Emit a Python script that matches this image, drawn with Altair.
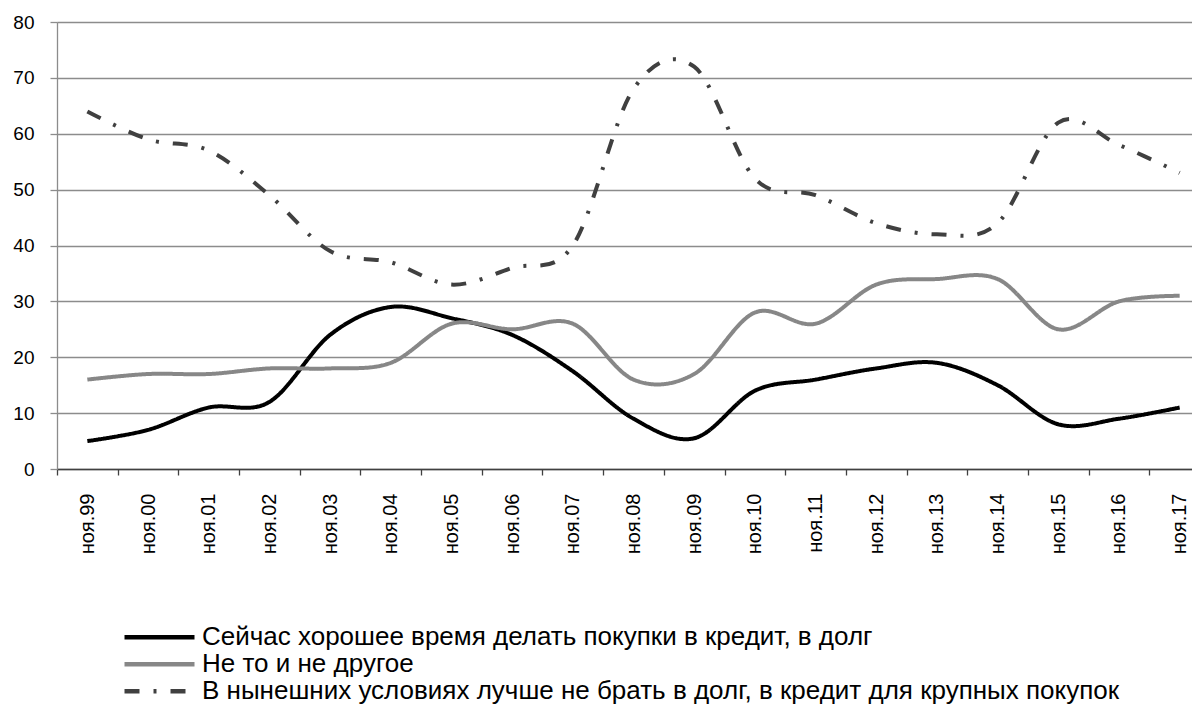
import altair as alt
import pandas as pd

categories = ["ноя.99", "ноя.00", "ноя.01", "ноя.02", "ноя.03", "ноя.04", "ноя.05",
              "ноя.06", "ноя.07", "ноя.08", "ноя.09", "ноя.10", "ноя.11", "ноя.12",
              "ноя.13", "ноя.14", "ноя.15", "ноя.16", "ноя.17"]

series_names = [
    "Сейчас хорошее время делать покупки в кредит, в долг",
    "Не то и не другое",
    "В нынешних условиях лучше не брать в долг, в кредит для крупных покупок",
]

good_time = [5, 7, 11, 12, 24, 29, 27, 24, 17.5, 9, 5.5, 14, 16, 18, 19, 15, 8, 9, 11]
neither = [16, 17, 17, 18, 18, 19, 26, 25, 26, 16, 17, 28, 26, 33, 34, 34, 25, 30, 31]
better_not = [64, 59, 57, 49, 39, 37, 33, 36, 40, 68, 72, 52, 49, 44, 42, 44, 62, 58, 53]

y_ticks = [0, 10, 20, 30, 40, 50, 60, 70, 80]

series_colors = ["#000000", "#878787", "#404040"]
series_dashes = [[1, 0], [1, 0], [15, 14, 3, 14]]

rows = []
for name, vals in zip(series_names, [good_time, neither, better_not]):
    for c, v in zip(categories, vals):
        rows.append({"cat": c, "series": name, "value": v})
df = pd.DataFrame(rows)

FONT = "Liberation Sans"

legend = alt.Legend(
    title=None,
    orient="none",
    legendX=65,
    legendY=602,
    direction="vertical",
    symbolType="stroke",
    symbolSize=4900,
    symbolStrokeWidth=4.5,
    labelFontSize=26,
    labelFont=FONT,
    labelColor="#000000",
    labelLimit=0,
    labelOffset=5,
    clipHeight=26.5,
    rowPadding=0,
    padding=0,
)

chart = alt.Chart(df).mark_line(interpolate="cardinal", strokeWidth=4).encode(
    x=alt.X(
        "cat:N",
        sort=categories,
        scale=alt.Scale(range=[0, 1153], paddingInner=0, paddingOuter=0),
        axis=alt.Axis(
            title=None,
            labelAngle=270,
            labelAlign="right",
            labelBaseline="middle",
            labelFontSize=20,
            labelFont=FONT,
            labelColor="#000000",
            labelPadding=18,
            tickBand="extent",
            tickSize=6,
            tickColor="#404040",
            tickWidth=1.3,
            domainColor="#404040",
            domainWidth=1.3,
            grid=False,
        ),
    ),
    y=alt.Y(
        "value:Q",
        scale=alt.Scale(domain=[0, 80], nice=False, zero=True),
        axis=alt.Axis(
            title=None,
            values=y_ticks,
            grid=True,
            gridColor="#8c8c8c",
            gridWidth=1.3,
            domainColor="#8c8c8c",
            domainWidth=1.3,
            tickColor="#8c8c8c",
            tickWidth=1.3,
            tickSize=7,
            labelPadding=16,
            labelFontSize=19,
            labelFont=FONT,
            labelColor="#000000",
        ),
    ),
    color=alt.Color(
        "series:N",
        sort=series_names,
        scale=alt.Scale(domain=series_names, range=series_colors),
        legend=legend,
    ),
    strokeDash=alt.StrokeDash(
        "series:N",
        sort=series_names,
        scale=alt.Scale(domain=series_names, range=series_dashes),
        legend=legend,
    ),
).properties(
    width=1135,
    height=447,
    autosize=alt.AutoSizeParams(type="none"),
    padding={"left": 49, "top": 14, "right": 0, "bottom": 237},
).configure_view(stroke=None).configure(background="white")

chart.save("out.html", embed_options={"renderer": "svg", "actions": False})
